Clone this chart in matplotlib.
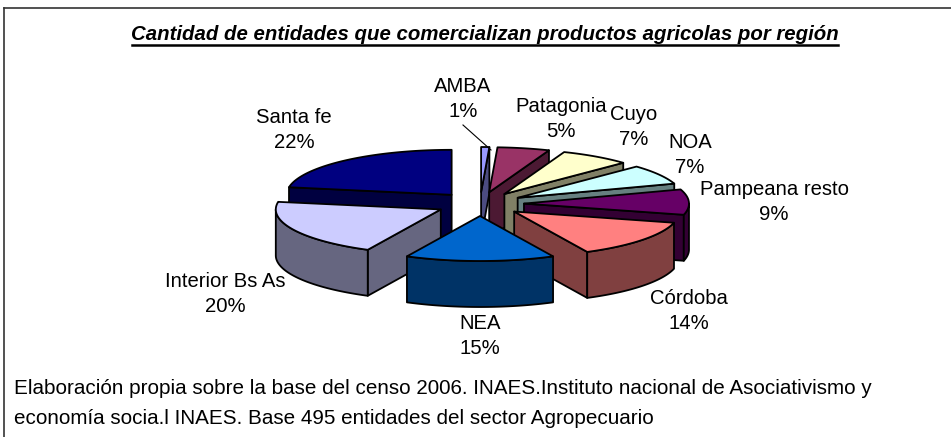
import numpy as np
import matplotlib
matplotlib.use("Agg")
import matplotlib.pyplot as plt
from matplotlib.patches import Polygon

regiones = ["AMBA", "Patagonia", "Cuyo", "NOA", "Pampeana resto", "Córdoba", "NEA", "Interior Bs As", "Santa fe"]
porcentajes = [0.8, 5.1, 6.9, 7.1, 9.1, 13.7, 14.6, 20.4, 22.3]

color_top = ["#9999FF", "#993366", "#FFFFCC", "#CCFFFF", "#660066", "#FF8080", "#0066CC", "#CCCCFF", "#000080"]
color_lado = ["#4C4C80", "#4C1933", "#808066", "#668080", "#330033", "#804040", "#003366", "#666680", "#000040"]

# centro de cada etiqueta (pixeles)
pos_etiqueta = [(463, 99), (561, 119), (634, 127), (690, 155), (774, 202), (689, 311), (480, 336), (225, 294), (294, 130)]
orden = [8, 0, 1, 2, 3, 4, 7, 5, 6]

cx, cy = 480, 204
rx, ry = 165, 45
explode = 44
alto = 46

plt.rcParams["font.family"] = ["Liberation Sans", "DejaVu Sans"]

fig = plt.figure(figsize=(9.51, 4.37), dpi=100, facecolor="white")
ax = fig.add_axes([0, 0, 1, 1])
ax.set_xlim(0, 951)
ax.set_ylim(437, 0)
ax.axis("off")


def punto(ang, r, ox, oy, dz=0):
    # angulo en grados, horario desde las 12
    t = np.radians(ang)
    return ox + r * rx * np.sin(t), oy - r * ry * np.cos(t) + dz


def cara(xs, ys, color, z):
    ax.add_patch(Polygon(np.column_stack([xs, ys]), closed=True, facecolor=color,
                         edgecolor="black", linewidth=1.3, joinstyle="round", zorder=z))


fin = np.cumsum(porcentajes) * 3.6
inicio = fin - np.array(porcentajes) * 3.6

for z, i in enumerate(orden):
    a0, a1 = inicio[i], fin[i]
    medio = np.radians((a0 + a1) / 2)
    ox = cx + explode * np.sin(medio)
    oy = cy - explode * ry / rx * np.cos(medio)

    # paredes rectas visibles
    for a, visible in [(a0, np.sin(np.radians(a0)) < 0), (a1, np.sin(np.radians(a1)) > 0)]:
        if visible:
            x1, y1 = punto(a, 1, ox, oy)
            cara([ox, x1, x1, ox], [oy, y1, y1 + alto, oy + alto], color_lado[i], z * 10 + 1)

    # pared curva, solo la mitad de adelante
    b0, b1 = max(a0, 90), min(a1, 270)
    if b1 > b0:
        angs = np.linspace(b0, b1, 60)
        x1, y1 = punto(angs, 1, ox, oy)
        cara(np.r_[x1, x1[::-1]], np.r_[y1, y1[::-1] + alto], color_lado[i], z * 10 + 2)

    # tapa
    angs = np.linspace(a0, a1, 80)
    x1, y1 = punto(angs, 1, ox, oy)
    cara(np.r_[ox, x1], np.r_[oy, y1], color_top[i], z * 10 + 3)

for i in range(len(regiones)):
    x, y = pos_etiqueta[i]
    ax.text(x, y, regiones[i] + "\n" + str(round(porcentajes[i])) + "%", ha="center", va="center",
            fontsize=14.6, color="black", linespacing=1.42, zorder=200)

# linea guia de AMBA
ax.plot([463, 491], [125, 150], color="black", lw=0.8, zorder=150)

# marco
ax.plot([4, 951], [8, 8], color="#333333", lw=1.2, zorder=300)
ax.plot([4, 4], [8, 437], color="#333333", lw=1.2, zorder=300)

ax.text(485, 35, "Cantidad de entidades que comercializan productos agricolas por región",
        ha="center", va="center", fontsize=14.7, fontweight="bold", fontstyle="italic", zorder=200)
ax.plot([132, 838], [45, 45], color="black", lw=1.8, zorder=200)

ax.text(14, 389, "Elaboración propia sobre la base del censo 2006. INAES.Instituto nacional de Asociativismo y",
        ha="left", va="center", fontsize=14.9, zorder=200)
ax.text(14, 418, "economía socia.l INAES. Base 495 entidades del sector Agropecuario",
        ha="left", va="center", fontsize=14.9, zorder=200)

fig.savefig("out.png", dpi=100, facecolor="white")
